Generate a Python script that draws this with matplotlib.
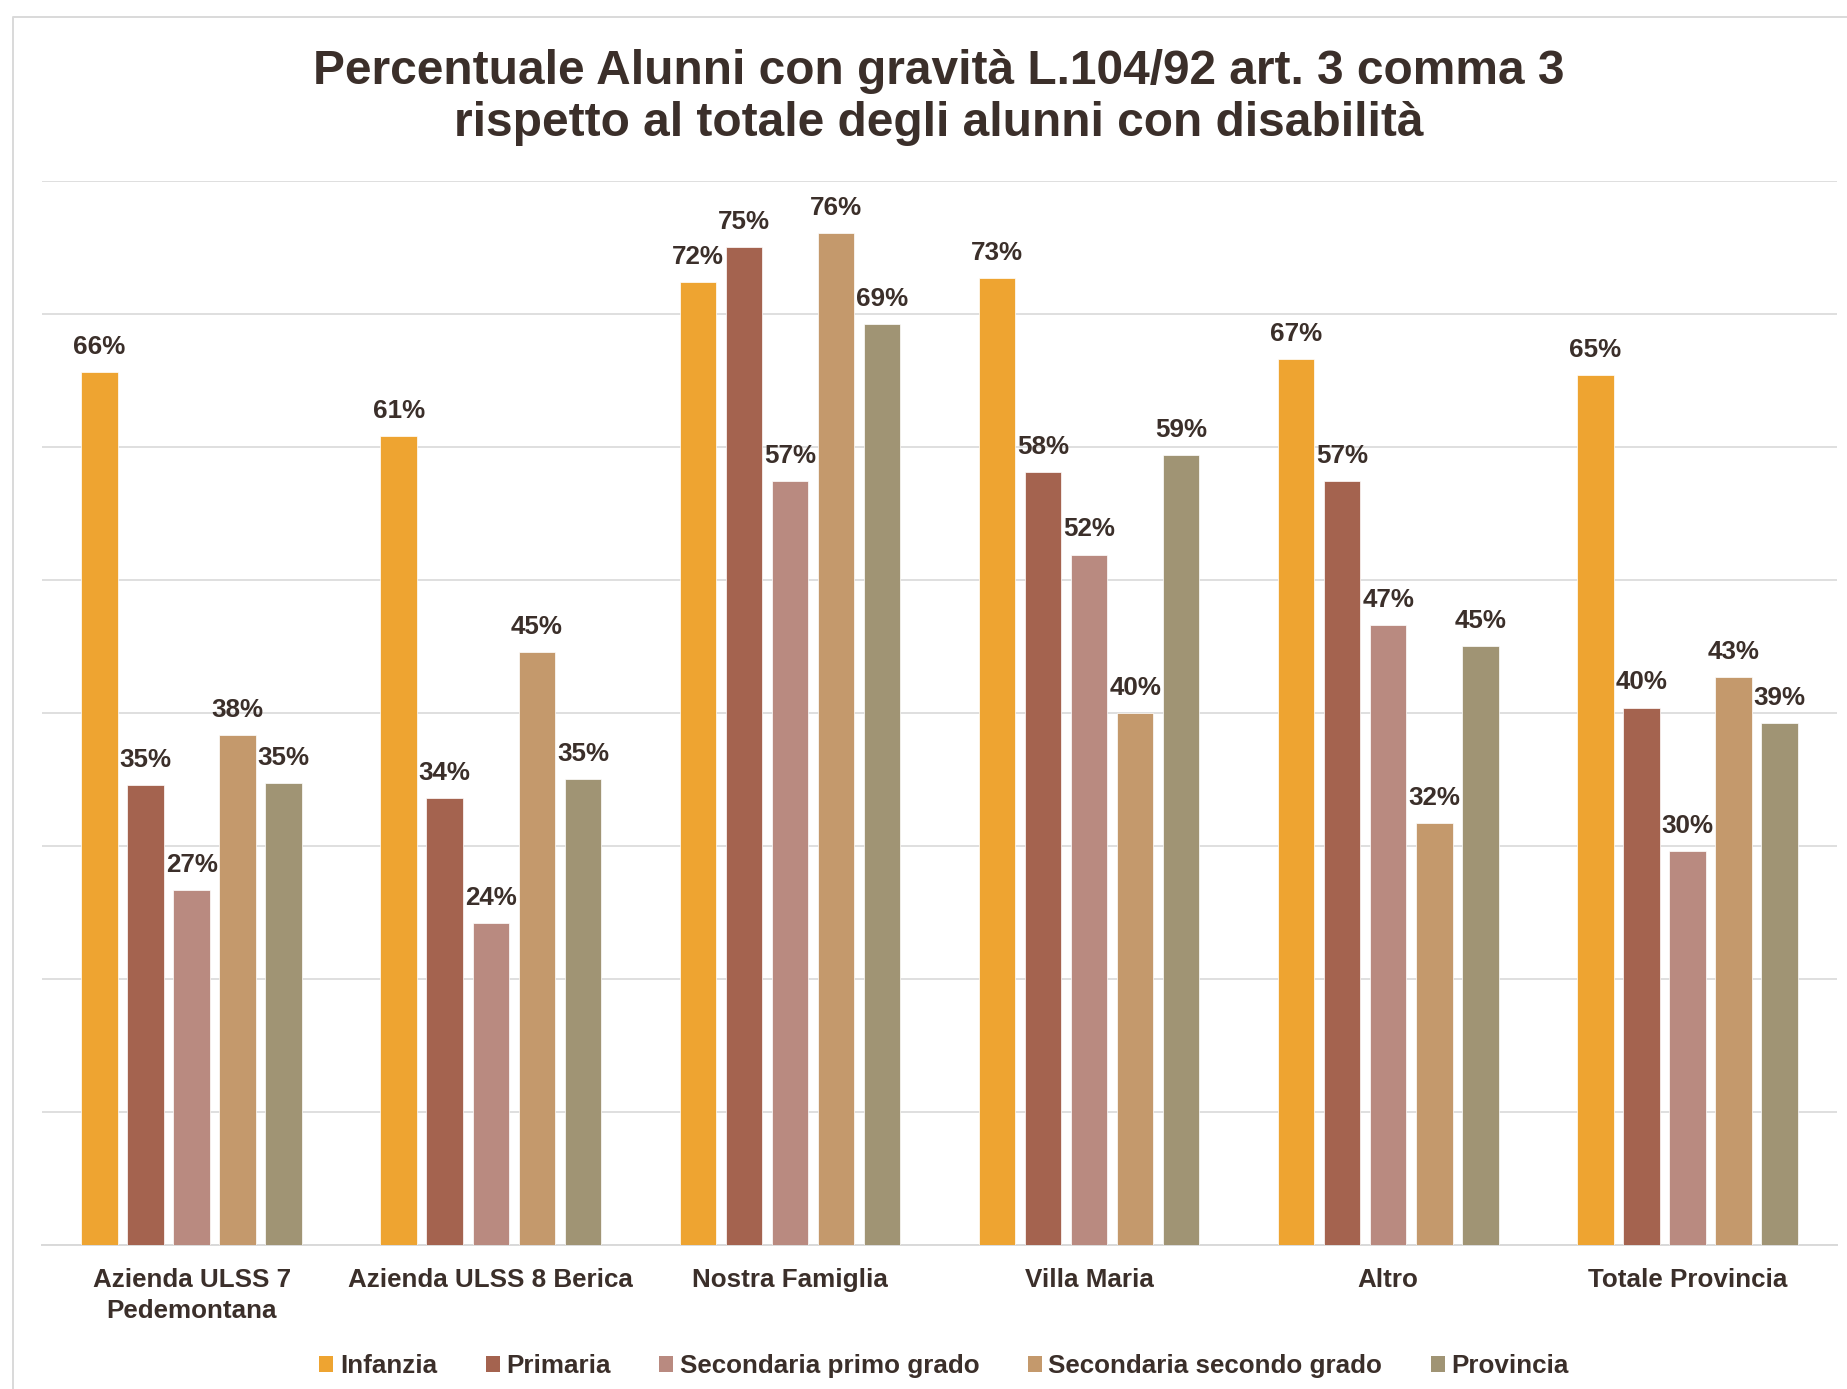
import matplotlib
matplotlib.use("Agg")
import matplotlib.pyplot as plt
from matplotlib.lines import Line2D
from matplotlib.patches import Patch
import numpy as np

plt.rcParams["font.family"] = ["Liberation Sans", "DejaVu Sans"]
plt.rcParams["font.weight"] = "bold"

TEXT = "#3B2F2A"
GRID = "#D9D9D9"

categories = ["Azienda ULSS 7\nPedemontana", "Azienda ULSS 8 Berica", "Nostra Famiglia",
              "Villa Maria", "Altro", "Totale Provincia"]
series = ["Infanzia", "Primaria", "Secondaria primo grado", "Secondaria secondo grado", "Provincia"]
colors = ["#EEA431", "#A4634F", "#B98A80", "#C4996C", "#A09474"]

infanzia = [0.656, 0.608, 0.724, 0.727, 0.666, 0.654]
primaria = [0.346, 0.336, 0.750, 0.581, 0.574, 0.404]
sec_primo = [0.267, 0.242, 0.574, 0.519, 0.466, 0.296]
sec_secondo = [0.383, 0.446, 0.761, 0.400, 0.317, 0.427]
provincia = [0.347, 0.350, 0.692, 0.594, 0.450, 0.392]
values = [infanzia, primaria, sec_primo, sec_secondo, provincia]

fig = plt.figure(figsize=(18.47, 13.89), dpi=100)
ax = fig.add_axes([42 / 1847, 1 - 1245 / 1389, (1837 - 42) / 1847, (1245 - 180.7) / 1389])

x = np.arange(len(categories))
step, width = 0.154, 0.122
for j, (name, vals, col) in enumerate(zip(series, values, colors)):
    pos = x + (j - 2) * step
    bars = ax.bar(pos, vals, width, color=col, edgecolor="#FFFFFF", linewidth=0.5, zorder=3, label=name)
    for b, v in zip(bars, vals):
        ax.annotate(f"{v:.0%}", (b.get_x() + b.get_width() / 2, v), xytext=(0, 13),
                    textcoords="offset points", ha="center", va="baseline",
                    fontsize=18.7, fontweight="bold", color=TEXT, zorder=4)

ax.set_xlim(-0.5, len(categories) - 0.5)
ax.set_ylim(0, 0.8)
ax.set_yticks(np.arange(0, 0.81, 0.1))
ax.yaxis.grid(True, color=GRID, linewidth=1.2, zorder=0)
ax.tick_params(axis="y", length=0, labelleft=False)
ax.tick_params(axis="x", length=0, pad=16.5)
ax.set_xticks(x)
ax.set_xticklabels(categories, fontsize=18.7, fontweight="bold", color=TEXT, va="top", linespacing=1.35)
for s in ["top", "right", "left"]:
    ax.spines[s].set_visible(False)
ax.spines["bottom"].set_color(GRID)
ax.spines["bottom"].set_linewidth(1.4)

fig.text(939 / 1847, 1 - 98 / 1389, "Percentuale Alunni con gravità L.104/92 art. 3 comma 3\n"
         "rispetto al totale degli alunni con disabilità",
         ha="center", va="center", fontsize=34.5, fontweight="bold", color=TEXT, linespacing=1.2)

handles = [Patch(facecolor=c, edgecolor="none") for c in colors]
fig.legend(handles, series, loc="center", bbox_to_anchor=(944 / 1847, 1 - 1366 / 1389), ncol=5,
           frameon=False, fontsize=18.7, handlelength=0.54, handleheight=0.54, handletextpad=0.25,
           columnspacing=1.87, labelcolor=TEXT)

# chart frame (top and left edges visible in the crop)
fig.add_artist(Line2D([13 / 1847, 13 / 1847, 1], [0, 1 - 17 / 1389, 1 - 17 / 1389],
                      transform=fig.transFigure, color=GRID, linewidth=1.4))

fig.savefig("out.png", dpi=100)
